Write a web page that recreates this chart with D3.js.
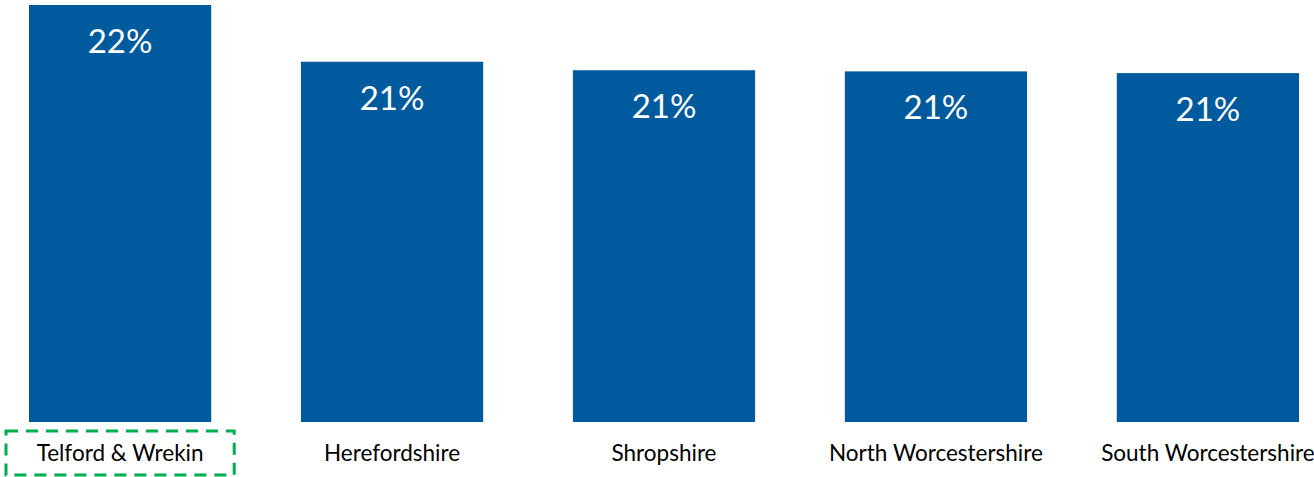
<!DOCTYPE html>
<html>
<head>
<meta charset="utf-8">
<script src="https://cdn.jsdelivr.net/npm/d3@7"></script>
<style>
  body { margin: 0; background: #fff; }
  svg { display: block; }
  .label { font-family: Lato, "Open Sans", sans-serif; }
</style>
</head>
<body>
<script>
var areas = ["Telford & Wrekin", "Herefordshire", "Shropshire", "North Worcestershire", "South Worcestershire"];
var shares = [0.2235, 0.2135, 0.212, 0.2118, 0.2115];
var highlight = "Telford & Wrekin";

var width = 1314,
	height = 477,
	margin = {top: 5, right: 15, bottom: 55, left: 29};

var x = d3.scaleBand()
	.domain(areas)
	.range([margin.left, width - margin.right])
	.paddingInner(0.33)
	.paddingOuter(0);

var y = d3.scaleLinear()
	.domain([0.15, 0.2235])
	.range([height - margin.bottom, margin.top]);

var fmt = d3.format(".0%");

var svg = d3.select("body").append("svg")
	.attr("width", width)
	.attr("height", height);

// bars
svg.selectAll(".bar")
	.data(areas)
	.enter().append("rect")
		.attr("class", "bar")
		.attr("x", function(d) { return x(d); })
		.attr("width", x.bandwidth())
		.attr("y", function(d, i) { return y(shares[i]); })
		.attr("height", function(d, i) { return y.range()[0] - y(shares[i]); })
		.style("fill", "#005A9E");

// value labels inside bars
svg.selectAll(".value")
	.data(areas)
	.enter().append("text")
		.attr("class", "label value")
		.attr("x", function(d) { return x(d) + x.bandwidth() / 2; })
		.attr("y", function(d, i) { return y(shares[i]) + 48; })
		.style("text-anchor", "middle")
		.style("font-size", "33px")
		.style("fill", "#fff")
		.text(function(d, i) { return fmt(shares[i]); });

// category axis (no line, no ticks)
var gX = svg.append("g")
	.attr("class", "axis axis--x")
	.attr("transform", "translate(0," + (height - margin.bottom) + ")")
	.call(d3.axisBottom(x).tickSize(0).tickPadding(0));
gX.select(".domain").remove();
gX.selectAll("text")
	.attr("class", "label")
	.attr("dy", null)
	.attr("y", 39)
	.style("font-size", "22.5px")
	.style("fill", "#000");

// dashed box round the highlighted area
var box = x.bandwidth() / 2 + 23;
svg.append("rect")
	.attr("x", x(highlight) + x.bandwidth() / 2 - box)
	.attr("y", height - margin.bottom + 9)
	.attr("width", box * 2)
	.attr("height", 44)
	.style("fill", "none")
	.style("stroke", "#00B050")
	.style("stroke-width", 3)
	.style("stroke-dasharray", "12,8");
</script>
</body>
</html>
